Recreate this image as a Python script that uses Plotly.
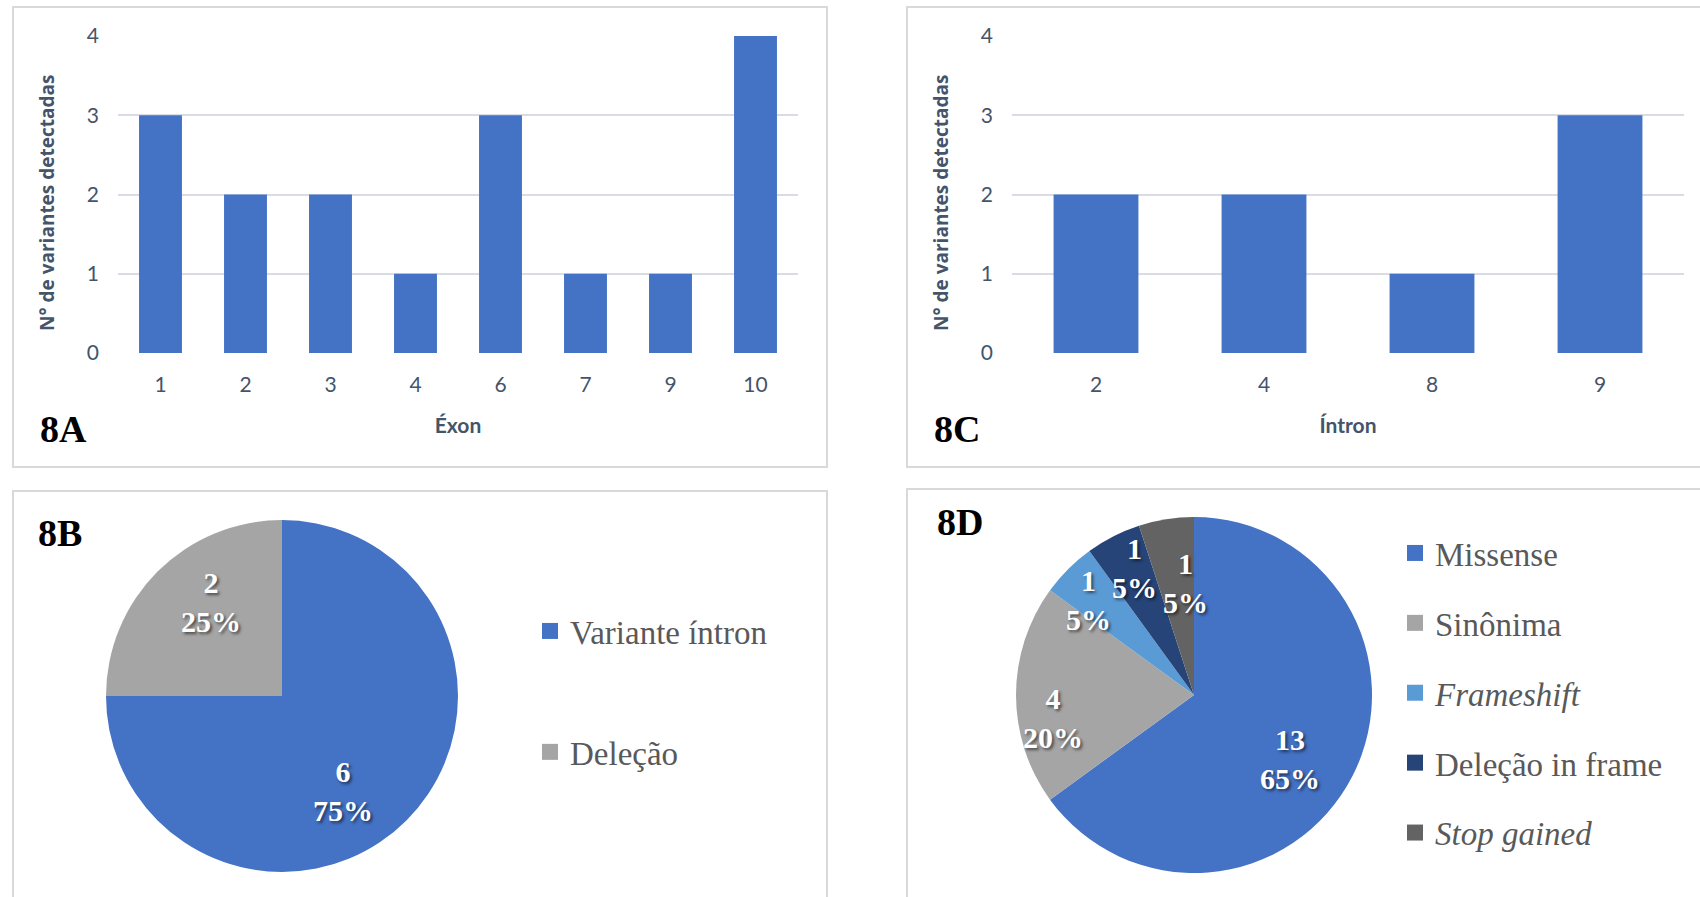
import math
import plotly.graph_objects as go

W, H = 1700, 897

# ---------------- data ----------------
exon_cats = ["1", "2", "3", "4", "6", "7", "9", "10"]
exon_vals = [3, 2, 2, 1, 3, 1, 1, 4]
intron_cats = ["2", "4", "8", "9"]
intron_vals = [2, 2, 1, 3]
y_ticks = [0, 1, 2, 3, 4]
y_title = "N° de variantes detectadas"

b_labels = ["Variante íntron", "Deleção"]
b_legend = ["Variante íntron", "Deleção"]
b_values = [6, 2]

d_labels = ["Missense", "Sinônima", "Frameshift", "Deleção in frame", "Stop gained"]
d_legend = ["Missense", "Sinônima", "<i>Frameshift</i>", "Deleção in frame", "<i>Stop gained</i>"]
d_values = [13, 4, 1, 1, 1]

# ---------------- styles ----------------
BAR_COLOR = "#4472C4"
b_colors = ["#4472C4", "#A5A5A5"]
d_colors = ["#4472C4", "#A5A5A5", "#5B9BD5", "#264478", "#636363"]
AX_TXT = "#44546A"
TITLE_TXT = "#44546A"
GRID = "#D9DDE3"
# data-label placement (fraction of radius, angular nudge in degrees)
b_label_r = [0.64, 0.67]
b_label_da = [12.5, 8.0]
d_label_r = [0.65, 0.80, 0.80, 0.79, 0.63]
d_label_da = [6.8, -9.2, -3.1, 1.9, 4.4]


def px(x):
    return x / W


def py(y):
    return 1 - y / H


fig = go.Figure()

fig.add_trace(go.Bar(x=exon_cats, y=exon_vals, marker=dict(color=BAR_COLOR, line=dict(width=0)),
                     xaxis="x", yaxis="y", showlegend=False))
fig.add_trace(go.Bar(x=intron_cats, y=intron_vals, marker=dict(color=BAR_COLOR, line=dict(width=0)),
                     xaxis="x2", yaxis="y2", showlegend=False))

label_font = dict(family="Liberation Serif", size=30, color="white", weight="bold",
                  shadow="2px 2px 3px rgba(0,0,0,0.55)")

pies = [
    (b_labels, b_values, b_colors, b_label_r, b_label_da, (282, 696), 176),
    (d_labels, d_values, d_colors, d_label_r, d_label_da, (1194, 695), 178),
]
for labels, values, colors, lr, lda, (cx, cy), r in pies:
    fig.add_trace(go.Pie(labels=labels, values=values, sort=False, direction="clockwise", rotation=0,
                         domain=dict(x=[px(cx - r), px(cx + r)], y=[py(cy + r), py(cy - r)]),
                         marker=dict(colors=colors, line=dict(width=0)),
                         textinfo="none", showlegend=False, hoverinfo="label+value+percent"))
    total = sum(values)
    cum = 0
    for v, f, da in zip(values, lr, lda):
        mid = (cum + v / 2) / total * 2 * math.pi + math.radians(da)
        cum += v
        lx = cx + f * r * math.sin(mid)
        ly = cy - f * r * math.cos(mid)
        pct = round(100 * v / total)
        fig.add_annotation(text=f"<b>{v}<br>{pct}%</b>", x=px(lx), y=py(ly), xref="paper", yref="paper",
                           xanchor="center", yanchor="middle", showarrow=False, font=label_font)

# legend proxies (pie legends with custom spacing)
for i, (name, col) in enumerate(zip(b_legend, b_colors)):
    fig.add_trace(go.Scatter(x=[None], y=[None], mode="markers", name=name,
                             marker=dict(symbol="square", size=16, color=col, line=dict(width=0)),
                             xaxis="x3", yaxis="y3", legend="legend2", legendgroup=f"b{i}"))
for i, (name, col) in enumerate(zip(d_legend, d_colors)):
    fig.add_trace(go.Scatter(x=[None], y=[None], mode="markers", name=name,
                             marker=dict(symbol="square", size=16, color=col, line=dict(width=0)),
                             xaxis="x3", yaxis="y3", legend="legend3", legendgroup=f"d{i}"))

tickfont = dict(family="Lato", size=21, color=AX_TXT)
xtitle_font = dict(family="Lato", size=21, color=AX_TXT, weight="bold")
ytitle_font = dict(family="Open Sans", size=19, color=TITLE_TXT, weight="bold")

common_x = dict(type="category", showgrid=False, zeroline=False, showline=False, ticks="",
                tickfont=tickfont, ticklabelstandoff=17, fixedrange=True, automargin=False)
common_y = dict(range=[0, 4], tickvals=y_ticks, showgrid=True, gridcolor=GRID, gridwidth=2,
                zeroline=False, showline=False, ticks="", tickfont=tickfont, ticklabelstandoff=18,
                fixedrange=True, automargin=False)

legend_font = dict(family="Liberation Serif", size=33, color="#595959")

fig.update_layout(
    width=W, height=H, margin=dict(l=0, r=0, t=0, b=0, pad=0, autoexpand=False),
    paper_bgcolor="white", plot_bgcolor="white",
    bargap=0.495,
    xaxis=dict(common_x, domain=[px(118), px(798)], anchor="y",
               title=dict(text="Éxon", font=xtitle_font, standoff=23)),
    yaxis=dict(common_y, domain=[py(353), py(36)], anchor="x"),
    xaxis2=dict(common_x, domain=[px(1012), px(1684)], anchor="y2",
                title=dict(text="Íntron", font=xtitle_font, standoff=23)),
    yaxis2=dict(common_y, domain=[py(353), py(36)], anchor="x2"),
    xaxis3=dict(visible=False, domain=[0, 0.001], anchor="y3", automargin=False),
    yaxis3=dict(visible=False, domain=[0, 0.001], anchor="x3", automargin=False),
    showlegend=True,
    legend=dict(visible=False),
    legend2=dict(x=px(530), y=py(603), xanchor="left", yanchor="top", font=legend_font,
                 bgcolor="rgba(0,0,0,0)", borderwidth=0, tracegroupgap=75, itemclick=False,
                 itemdoubleclick=False),
    legend3=dict(x=px(1395), y=py(525), xanchor="left", yanchor="top", font=legend_font,
                 bgcolor="rgba(0,0,0,0)", borderwidth=0, tracegroupgap=24, itemclick=False,
                 itemdoubleclick=False),
)

# y-axis titles
for xt in (47, 941):
    fig.add_annotation(text=y_title, x=px(xt), y=py(203), xref="paper", yref="paper",
                       xanchor="center", yanchor="middle", textangle=-90, showarrow=False,
                       font=ytitle_font)

# panel frames
frames = [(13, 7, 827, 467), (907, 7, 1702, 467), (13, 491, 827, 899), (907, 489, 1702, 899)]
for x0, y0, x1, y1 in frames:
    fig.add_shape(type="rect", xref="paper", yref="paper", x0=px(x0), x1=px(x1), y0=py(y1), y1=py(y0),
                  line=dict(color="#D9D9D9", width=2), fillcolor="rgba(0,0,0,0)", layer="below")

# panel tags
tags = [("8A", 38, 429), ("8C", 932, 429), ("8B", 36, 533), ("8D", 935, 522)]
for t, x, y in tags:
    fig.add_annotation(text=f"<b>{t}</b>", x=px(x), y=py(y), xref="paper", yref="paper",
                       xanchor="left", yanchor="middle", showarrow=False,
                       font=dict(family="Liberation Serif", size=38, color="black"))

fig.write_html("out.html")
